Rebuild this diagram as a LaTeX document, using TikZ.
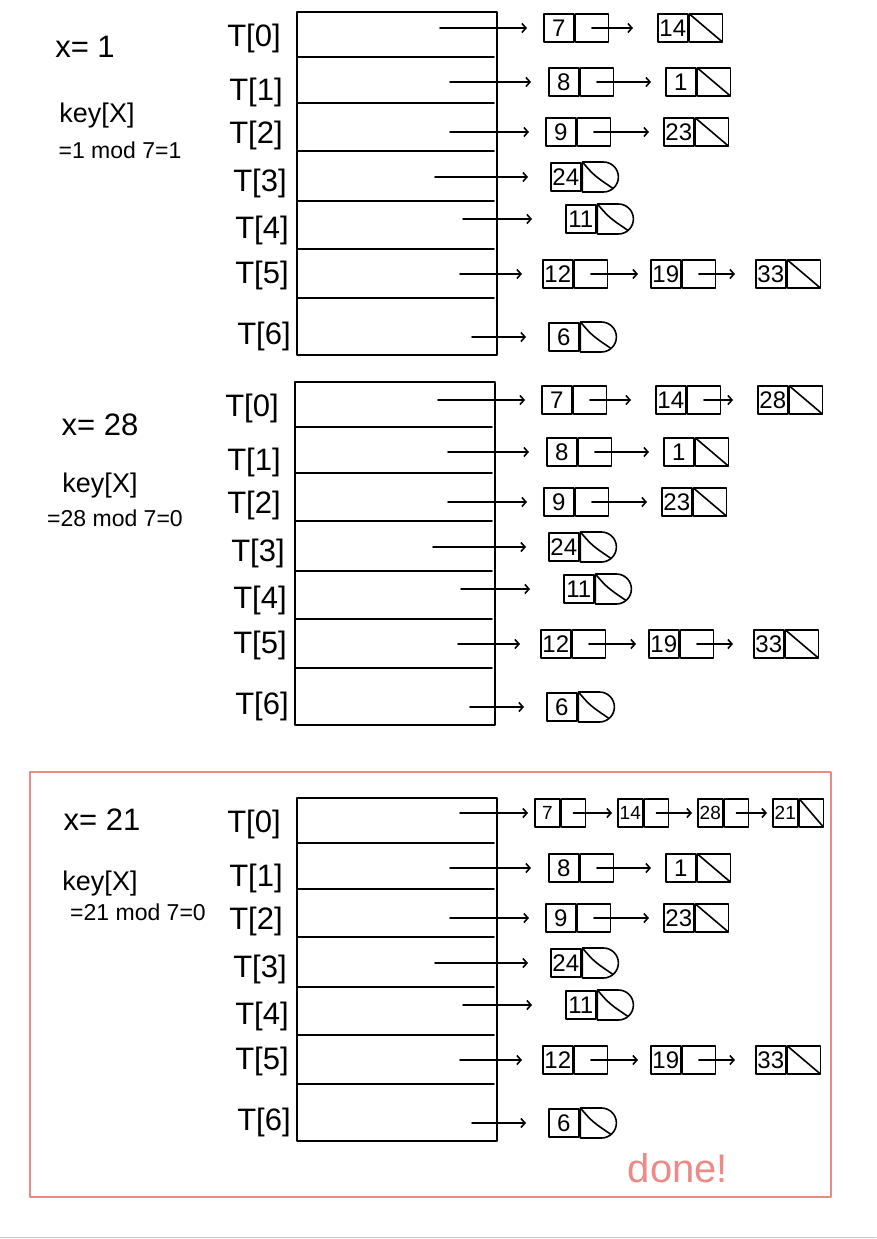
\documentclass[tikz,border=0pt]{standalone}
\usepackage{fontspec}
\setmainfont{Liberation Sans}
\usetikzlibrary{arrows.meta,shapes.misc}
\definecolor{salmon}{HTML}{EE8A85}
\newcommand\mycell[5]{%
  \node[keyc] (#1k) at (#2,#3) {#4};
  \node[#5] (#1p) at (#1k.east) {};}
\newcommand\mysmall[5]{%
  \node[keyc,minimum width=25pt,minimum height=28pt,font=\fontsize{19}{19}\selectfont] (#1k) at (#2,#3) {#4};
  \node[#5,minimum width=24pt,minimum height=28pt] (#1p) at (#1k.east) {};}
\newcommand\mytable[1]{%
  \draw (297,12) rectangle (497,355);
  \foreach \yy in {57,103,151,201,249,298} \draw (297,\yy) -- (494,\yy);
  \node[tlab] (#1t0) at (254,38) {T[0]};
  \node[tlab] (#1t1) at (256,92) {T[1]};
  \node[tlab] (#1t2) at (256,135) {T[2]};
  \node[tlab] (#1t3) at (260,183) {T[3]};
  \node[tlab] (#1t4) at (262,230) {T[4]};
  \node[tlab] (#1t5) at (262,275) {T[5]};
  \node[tlab] (#1t6) at (264,336) {T[6]};
  % row 1
  \mycell{#1a1}{548}{82}{8}{ptrc}
  \mycell{#1b1}{665}{82}{1}{nilc}
  \coordinate (#1s1) at (450,82);
  \draw[arr,shorten >=17pt] (#1s1) -- (#1a1k.west);
  \draw[arr,shorten >=14pt] (#1a1p.center) -- (#1b1k.west);
  % row 2
  \mycell{#1a2}{545}{132}{9}{ptrc}
  \mycell{#1b2}{663}{132}{23}{nilc}
  \coordinate (#1s2) at (450,132);
  \draw[arr,shorten >=16pt] (#1s2) -- (#1a2k.west);
  \draw[arr,shorten >=14pt] (#1a2p.center) -- (#1b2k.west);
  % row 3
  \mycell{#1a3}{550}{177}{24}{rnil}
  \coordinate (#1s3) at (435,177);
  \draw[arr,shorten >=22pt] (#1s3) -- (#1a3k.west);
  % row 4
  \mycell{#1a4}{565}{219}{11}{rnil}
  \coordinate (#1s4) at (463,219);
  \draw[arr,shorten >=33pt] (#1s4) -- (#1a4k.west);
  % row 5
  \mycell{#1a5}{542}{274}{12}{ptrc}
  \mycell{#1b5}{650}{274}{19}{ptrc}
  \mycell{#1c5}{755}{274}{33}{nilc}
  \coordinate (#1s5) at (460,274);
  \draw[arr,shorten >=20pt] (#1s5) -- (#1a5k.west);
  \draw[arr,shorten >=12pt] (#1a5p.center) -- (#1b5k.west);
  \draw[arr,shorten >=20pt] (#1b5p.center) -- (#1c5k.west);
  % row 6
  \mycell{#1a6}{548}{337}{6}{rnil}
  \coordinate (#1s6) at (472,337);
  \draw[arr,shorten >=22pt] (#1s6) -- (#1a6k.west);
}
\begin{document}
\begin{tikzpicture}[x=1pt,y=-1pt,line width=1.6pt,line cap=round,line join=round,
  keyc/.style={draw,minimum width=30pt,minimum height=28pt,inner sep=0pt,anchor=west,font=\fontsize{24}{24}\selectfont},
  ptrc/.style={draw,minimum width=33pt,minimum height=28pt,inner sep=0pt,anchor=west},
  nilc/.style={ptrc,path picture={\draw[line width=1.6pt] (path picture bounding box.north west) -- (path picture bounding box.south east);}},
  rnil/.style={draw,rounded rectangle,rounded rectangle left arc=none,minimum width=36pt,minimum height=30pt,inner sep=0pt,anchor=west,
    path picture={\draw[line width=1.6pt] (path picture bounding box.north west) .. controls ([xshift=12pt,yshift=-14pt]path picture bounding box.north west) .. (path picture bounding box.south east);}},
  arr/.style={-{Straight Barb[length=4pt,width=9pt]}},
  tlab/.style={inner sep=0pt,font=\fontsize{31}{31}\selectfont},
  xlab/.style={inner sep=0pt,font=\fontsize{31}{31}\selectfont},
  klab/.style={inner sep=0pt,font=\fontsize{27}{27}\selectfont},
  mlab/.style={inner sep=0pt,font=\fontsize{23}{23}\selectfont}]
\useasboundingbox (0,0) rectangle (876,1239);
\fill[white] (0,0) rectangle (876,1239);
\draw[gray!45,line width=1pt] (0,1237) -- (876,1237);

% ---------- table 1 : x = 1 ----------
\begin{scope}
  \node[xlab] (x1) at (85,47) {x= 1};
  \node[klab] (k1) at (97,116) {key[X]};
  \node[mlab] (m1) at (120,150) {=1 mod 7=1};
  \mytable{A}
  \mycell{Aa0}{543}{28}{7}{ptrc}
  \mycell{Ab0}{657}{28}{14}{nilc}
  \coordinate (As0) at (440,28);
  \draw[arr,shorten >=16pt] (As0) -- (Aa0k.west);
  \draw[arr,shorten >=24pt] (Aa0p.center) -- (Ab0k.west);
\end{scope}

% ---------- table 2 : x = 28 ----------
\begin{scope}[shift={(-2,370)}]
  \node[xlab] (x2) at (102,55) {x= 28};
  \node[klab] (k2) at (102,116) {key[X]};
  \node[mlab] (m2) at (117,148) {=28 mod 7=0};
  \mytable{B}
  \mycell{Ba0}{543}{30}{7}{ptrc}
  \mycell{Bb0}{657}{30}{14}{ptrc}
  \mycell{Bc0}{759}{30}{28}{nilc}
  \coordinate (Bs0) at (440,30);
  \draw[arr,shorten >=16pt] (Bs0) -- (Ba0k.west);
  \draw[arr,shorten >=24pt] (Ba0p.center) -- (Bb0k.west);
  \draw[arr,shorten >=24pt] (Bb0p.center) -- (Bc0k.west);
\end{scope}

% ---------- table 3 : x = 21 ----------
\draw[salmon,line width=1.8pt] (30,772) rectangle (831,1197);
\begin{scope}[shift={(0,786)}]
  \node[xlab] (x3) at (102,34) {x= 21};
  \node[klab] (k3) at (100,98) {key[X]};
  \node[mlab] (m3) at (138,126) {=21 mod 7=0};
  \mytable{C}
  \mysmall{Ca0}{534}{27}{7}{ptrc}
  \mysmall{Cb0}{617}{27}{14}{ptrc}
  \mysmall{Cc0}{697}{27}{28}{ptrc}
  \mysmall{Cd0}{772}{27}{21}{nilc}
  \coordinate (Cs0) at (460,27);
  \draw[arr,shorten >=6pt] (Cs0) -- (Ca0k.west);
  \draw[arr,shorten >=5pt] (Ca0p.center) -- (Cb0k.west);
  \draw[arr,shorten >=5pt] (Cb0p.center) -- (Cc0k.west);
  \draw[arr,shorten >=5pt] (Cc0p.center) -- (Cd0k.west);
\end{scope}
\node[inner sep=0pt,text=salmon,font=\fontsize{40}{40}\selectfont] (done) at (678,1168) {done!};
\end{tikzpicture}
\end{document}
